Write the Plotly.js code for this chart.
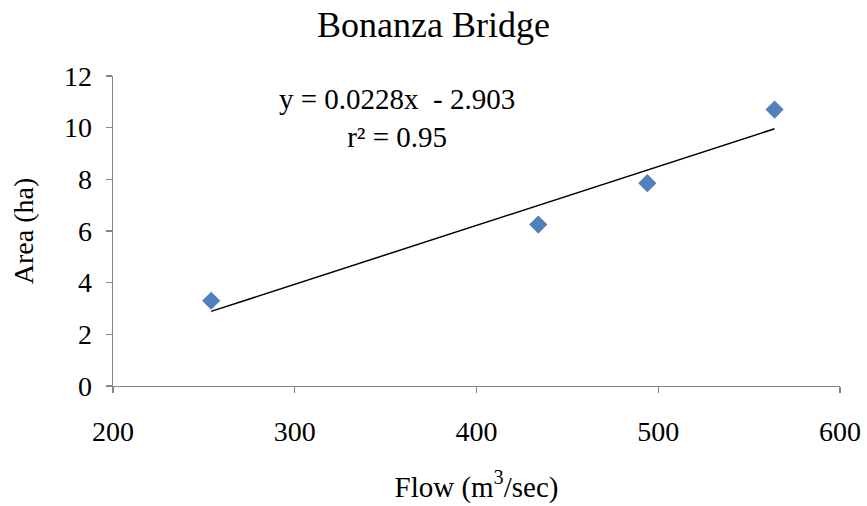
<!DOCTYPE html>
<html>
<head>
<meta charset="utf-8">
<script src="https://cdn.plot.ly/plotly-3.0.1.min.js"></script>
<style>html,body{margin:0;padding:0;background:#fff;}#chart{width:867px;height:506px;}</style>
</head>
<body>
<div id="chart"></div>
<script>
// Data
const flow = [254, 434, 494, 564];
const area = [3.3, 6.25, 7.85, 10.7];
const slope = 0.0228;
const intercept = -2.903;
const r2 = 0.95;
const xTicks = [200, 300, 400, 500, 600];
const yTicks = [0, 2, 4, 6, 8, 10, 12];

const xMin = Math.min(...flow), xMax = Math.max(...flow);
const trendX = [xMin, xMax];
const trendY = trendX.map(x => slope * x + intercept);

const font = "'Liberation Serif', 'Times New Roman', serif";

const traces = [
  {
    x: trendX, y: trendY, type: 'scatter', mode: 'lines',
    line: {color: '#000000', width: 1.5}, hoverinfo: 'skip', showlegend: false
  },
  {
    x: flow, y: area, type: 'scatter', mode: 'markers',
    marker: {symbol: 'diamond', size: 14, color: '#4F81BD', line: {width: 0}},
    showlegend: false
  }
];

const axisCommon = {
  showgrid: false, zeroline: false, showline: true, linecolor: '#868686', linewidth: 1.3,
  ticks: 'outside', ticklen: 6, tickcolor: '#868686', tickwidth: 1.3,
  tickfont: {family: font, size: 28, color: '#000'}
};

const layout = {
  width: 867, height: 506,
  margin: {l: 113, r: 27, t: 76, b: 120},
  paper_bgcolor: '#fff', plot_bgcolor: '#fff',
  title: {text: 'Bonanza Bridge', font: {family: font, size: 36, color: '#000'}, x: 0.5, xanchor: 'center', y: 0.952, yanchor: 'middle'},
  xaxis: Object.assign({}, axisCommon, {
    range: [200, 600], tickvals: xTicks, ticktext: xTicks.map(String),
    ticklabelstandoff: 14,
    title: {text: 'Flow (m<sup>3</sup>/sec)', font: {family: font, size: 29, color: '#000'}, standoff: 30}
  }),
  yaxis: Object.assign({}, axisCommon, {
    range: [0, 12], tickvals: yTicks, ticktext: yTicks.map(String),
    ticklabelstandoff: 8,
    title: {text: 'Area (ha)', font: {family: font, size: 28, color: '#000'}, standoff: 22}
  }),
  annotations: [{
    xref: 'paper', yref: 'paper', x: 0.39, y: 0.865, xanchor: 'center', yanchor: 'middle',
    text: 'y = ' + slope + 'x  - ' + Math.abs(intercept).toFixed(3) + '<br>r² = ' + r2,
    showarrow: false, align: 'center',
    font: {family: font, size: 29, color: '#000'}
  }]
};

Plotly.newPlot('chart', traces, layout, {displayModeBar: false, staticPlot: true});
</script>
</body>
</html>
